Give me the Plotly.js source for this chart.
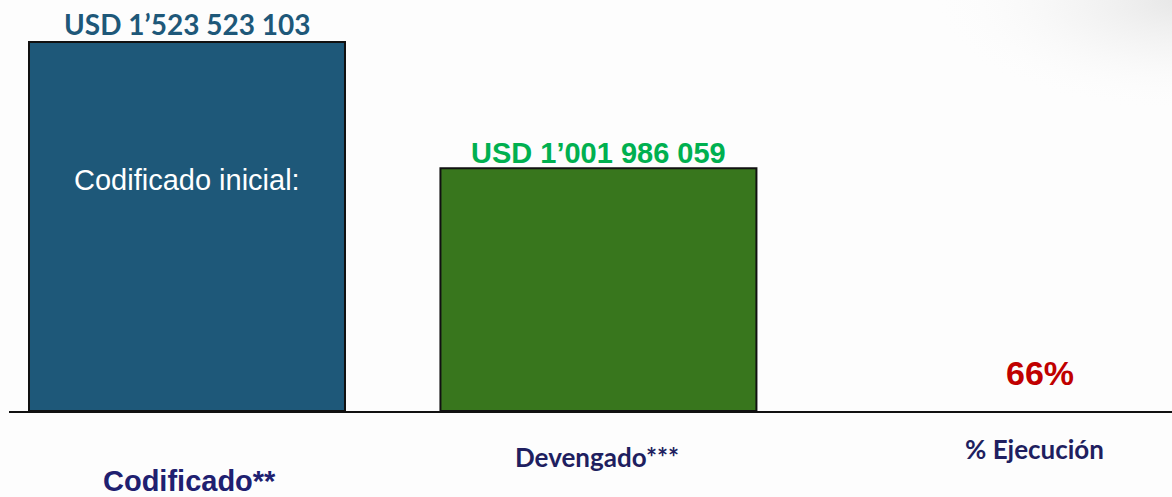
<!DOCTYPE html>
<html><head><meta charset="utf-8">
<script src="https://cdn.plot.ly/plotly-3.0.1.min.js"></script>
<style>html,body{margin:0;padding:0;background:#fdfdfd;}#chart{width:1172px;height:497px;}</style>
</head><body><div id="chart"></div>
<script>
const categories = ["Codificado**", "Devengado***", "% Ejecución"];
const amounts = [1523523103, 1001986059, null];
const valueLabels = ["USD 1’523 523 103", "USD 1’001 986 059"];
const ejecucionPct = 66;
const innerLabel = "Codificado inicial:";

const barColors = ["#1e5879", "#38761d", "#ffffff"];

const trace = {
  type: "bar",
  x: categories,
  y: amounts,
  width: 0.768,
  marker: {color: barColors, line: {color: "#111111", width: 2}},
  hoverinfo: "skip"
};

const shadeSvg = "data:image/svg+xml;utf8," + encodeURIComponent(
  '<svg xmlns="http://www.w3.org/2000/svg" width="300" height="200">' +
  '<defs><radialGradient id="g" cx="1" cy="0" r="0.9">' +
  '<stop offset="0" stop-color="#e6e6e6" stop-opacity="1"/>' +
  '<stop offset="0.5" stop-color="#f2f2f2" stop-opacity="0.6"/>' +
  '<stop offset="1" stop-color="#fdfdfd" stop-opacity="0"/></radialGradient></defs>' +
  '<rect width="300" height="200" fill="url(#g)"/></svg>');

const annotations = [
  {x: categories[0], y: amounts[0], xref: "x", yref: "y", yanchor: "middle", yshift: 18,
   text: "<b>" + valueLabels[0] + "</b>", showarrow: false,
   font: {family: "Lato, 'Open Sans', sans-serif", size: 28, color: "#1e5879"}},
  {x: categories[1], y: amounts[1], xref: "x", yref: "y", yanchor: "middle", yshift: 15,
   text: "<b>" + valueLabels[1] + "</b>", showarrow: false,
   font: {family: "'Liberation Sans', Arial, sans-serif", size: 29, color: "#00b050"}},
  {x: categories[2], y: 0, xref: "x", yref: "y", yanchor: "middle", yshift: 38, xshift: 30,
   text: "<b>" + ejecucionPct + "%</b>", showarrow: false,
   font: {family: "'Liberation Sans', Arial, sans-serif", size: 34, color: "#c00000"}},
  {x: categories[0], y: 0, xref: "x", yref: "y", yanchor: "middle", yshift: 231,
   text: innerLabel, showarrow: false,
   font: {family: "'Liberation Sans', Arial, sans-serif", size: 29, color: "#ffffff"}},
  {x: categories[0], y: 0, xref: "x", yref: "y", yanchor: "middle", yshift: -70, xshift: 3,
   text: "<b>" + categories[0] + "</b>", showarrow: false,
   font: {family: "'Liberation Sans', Arial, sans-serif", size: 29, color: "#202070"}},
  {x: categories[1], y: 0, xref: "x", yref: "y", yanchor: "middle", yshift: -46, xshift: -1,
   text: "<b>" + categories[1] + "</b>", showarrow: false,
   font: {family: "Lato, 'Open Sans', sans-serif", size: 26, color: "#1f1f60"}},
  {x: categories[2], y: 0, xref: "x", yref: "y", yanchor: "middle", yshift: -38, xshift: 25,
   text: "<b>" + categories[2] + "</b>", showarrow: false,
   font: {family: "Lato, 'Open Sans', sans-serif", size: 26, color: "#1f1f60"}}
];

const layout = {
  width: 1172, height: 497,
  margin: {l: 9, r: 0, t: 0, b: 86},
  paper_bgcolor: "#fdfdfd",
  plot_bgcolor: "rgba(0,0,0,0)",
  showlegend: false,
  images: [{source: shadeSvg, xref: "paper", yref: "paper", x: 1.01, y: 1.0, sizex: 0.24, sizey: 0.3,
            xanchor: "right", yanchor: "top", sizing: "stretch", layer: "below"}],
  xaxis: {type: "category", range: [-0.4326, 2.394], showticklabels: false, ticks: "",
          showgrid: false, zeroline: false, showline: true, linecolor: "#111111", linewidth: 2, fixedrange: true},
  yaxis: {range: [0, 1.697e9], visible: false, showgrid: false, zeroline: false, fixedrange: true},
  annotations: annotations
};

Plotly.newPlot("chart", [trace], layout, {displayModeBar: false, staticPlot: true});
</script></body></html>
